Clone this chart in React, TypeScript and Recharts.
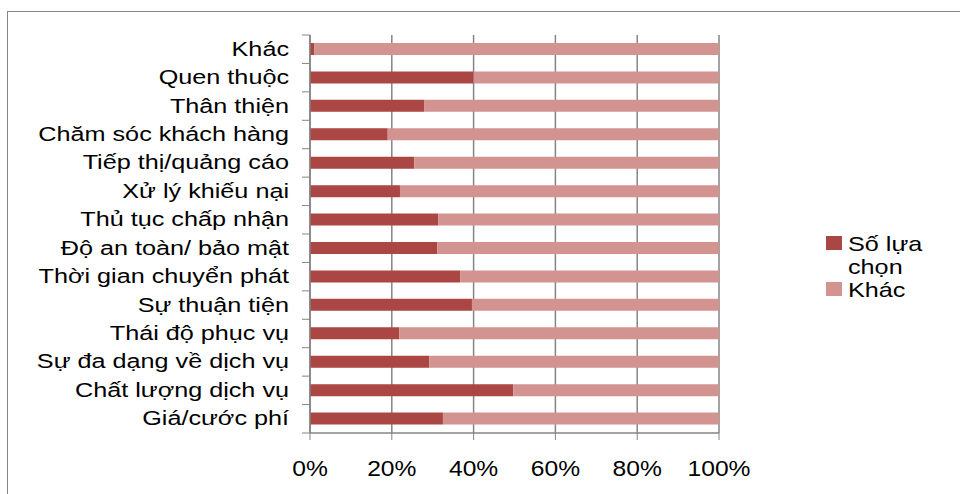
import { BarChart, Bar, XAxis, YAxis, CartesianGrid } from 'recharts'

const categories = [
  'Khác',
  'Quen thuộc',
  'Thân thiện',
  'Chăm sóc khách hàng',
  'Tiếp thị/quảng cáo',
  'Xử lý khiếu nại',
  'Thủ tục chấp nhận',
  'Độ an toàn/ bảo mật',
  'Thời gian chuyển phát',
  'Sự thuận tiện',
  'Thái độ phục vụ',
  'Sự đa dạng về dịch vụ',
  'Chất lượng dịch vụ',
  'Giá/cước phí',
]

// percent of respondents choosing each factor
const selected = [1, 40, 28, 19, 25.5, 22, 31.4, 31.1, 36.7, 39.6, 21.8, 29.2, 49.7, 32.5]

const xTicks = [0, 20, 40, 60, 80, 100]

const legendItems = ['Số lựa chọn', 'Khác']

const DARK = '#AA4644'
const LIGHT = '#D39391'
const AXIS = '#858585'
const FONT = '"Liberation Sans", Arial, Helvetica, sans-serif'

const data = categories.map((name, i) => ({
  name,
  selected: selected[i],
  other: 100 - selected[i],
}))

const PLOT_TOP = 35
const PLOT_BOTTOM = 433
const BAND = (PLOT_BOTTOM - PLOT_TOP) / categories.length

function CategoryTick(props: any) {
  const { y, payload, index } = props
  return (
    <g>
      <line x1={302} x2={310} y1={y + BAND / 2} y2={y + BAND / 2} stroke={AXIS} />
      {index === 0 && <line x1={302} x2={310} y1={y - BAND / 2} y2={y - BAND / 2} stroke={AXIS} />}
      <text
        transform={`translate(289, ${y - 1}) scale(1.2, 1)`}
        textAnchor="end"
        dy="0.36em"
        fontSize={21}
        fontFamily={FONT}
        fill="#000"
      >
        {payload.value}
      </text>
    </g>
  )
}

function PercentTick(props: any) {
  const { x, payload } = props
  return (
    <text
      transform={`translate(${x}, 468) scale(1.12, 1)`}
      textAnchor="middle"
      dy="0.36em"
      fontSize={22}
      fontFamily={FONT}
      fill="#000"
    >
      {payload.value}%
    </text>
  )
}

function ChartLegend() {
  const colors = [DARK, LIGHT]
  return (
    <div
      style={{
        position: 'absolute',
        left: 826,
        top: 232,
        fontFamily: FONT,
        fontSize: 21,
        lineHeight: '23px',
        color: '#000',
      }}
    >
      {legendItems.map((label, i) => (
        <div key={label} style={{ display: 'flex', alignItems: 'flex-start' }}>
          <span
            style={{
              width: 16,
              height: 14,
              background: colors[i],
              marginTop: 4,
              marginRight: 6,
              flexShrink: 0,
            }}
          />
          <span
            style={{
              width: 80,
              display: 'inline-block',
              transform: 'scaleX(1.2)',
              transformOrigin: 'left',
            }}
          >
            {label}
          </span>
        </div>
      ))}
    </div>
  )
}

export default function App() {
  return (
    <div style={{ position: 'absolute', left: 0, top: 0, width: 960, height: 494, overflow: 'hidden', background: '#fff' }}>
      <div
        style={{
          position: 'absolute',
          left: 7,
          top: 11,
          width: 1000,
          height: 600,
          borderLeft: `1px solid ${AXIS}`,
          borderTop: `1px solid ${AXIS}`,
        }}
      />
      <div style={{ position: 'absolute', left: 0, top: 0 }}>
        <BarChart
          width={960}
          height={494}
          data={data}
          layout="vertical"
          margin={{ top: PLOT_TOP, right: 241, bottom: 0, left: 0 }}
          barSize={12}
        >
          <CartesianGrid horizontal={false} stroke={AXIS} strokeWidth={1.5} syncWithTicks />
          <XAxis
            type="number"
            domain={[0, 100]}
            ticks={xTicks}
            tick={<PercentTick />}
            axisLine={{ stroke: AXIS, strokeWidth: 1.5 }}
            tickLine={{ stroke: AXIS }}
            tickSize={7}
            height={494 - PLOT_BOTTOM}
            interval={0}
          />
          <YAxis
            type="category"
            dataKey="name"
            width={310}
            tick={<CategoryTick />}
            axisLine={{ stroke: AXIS, strokeWidth: 1.5 }}
            tickLine={false}
            interval={0}
          />
          <Bar dataKey="selected" name="Số lựa chọn" stackId="a" fill={DARK} isAnimationActive={false} />
          <Bar dataKey="other" name="Khác" stackId="a" fill={LIGHT} isAnimationActive={false} />
        </BarChart>
      </div>
      <ChartLegend />
    </div>
  )
}
